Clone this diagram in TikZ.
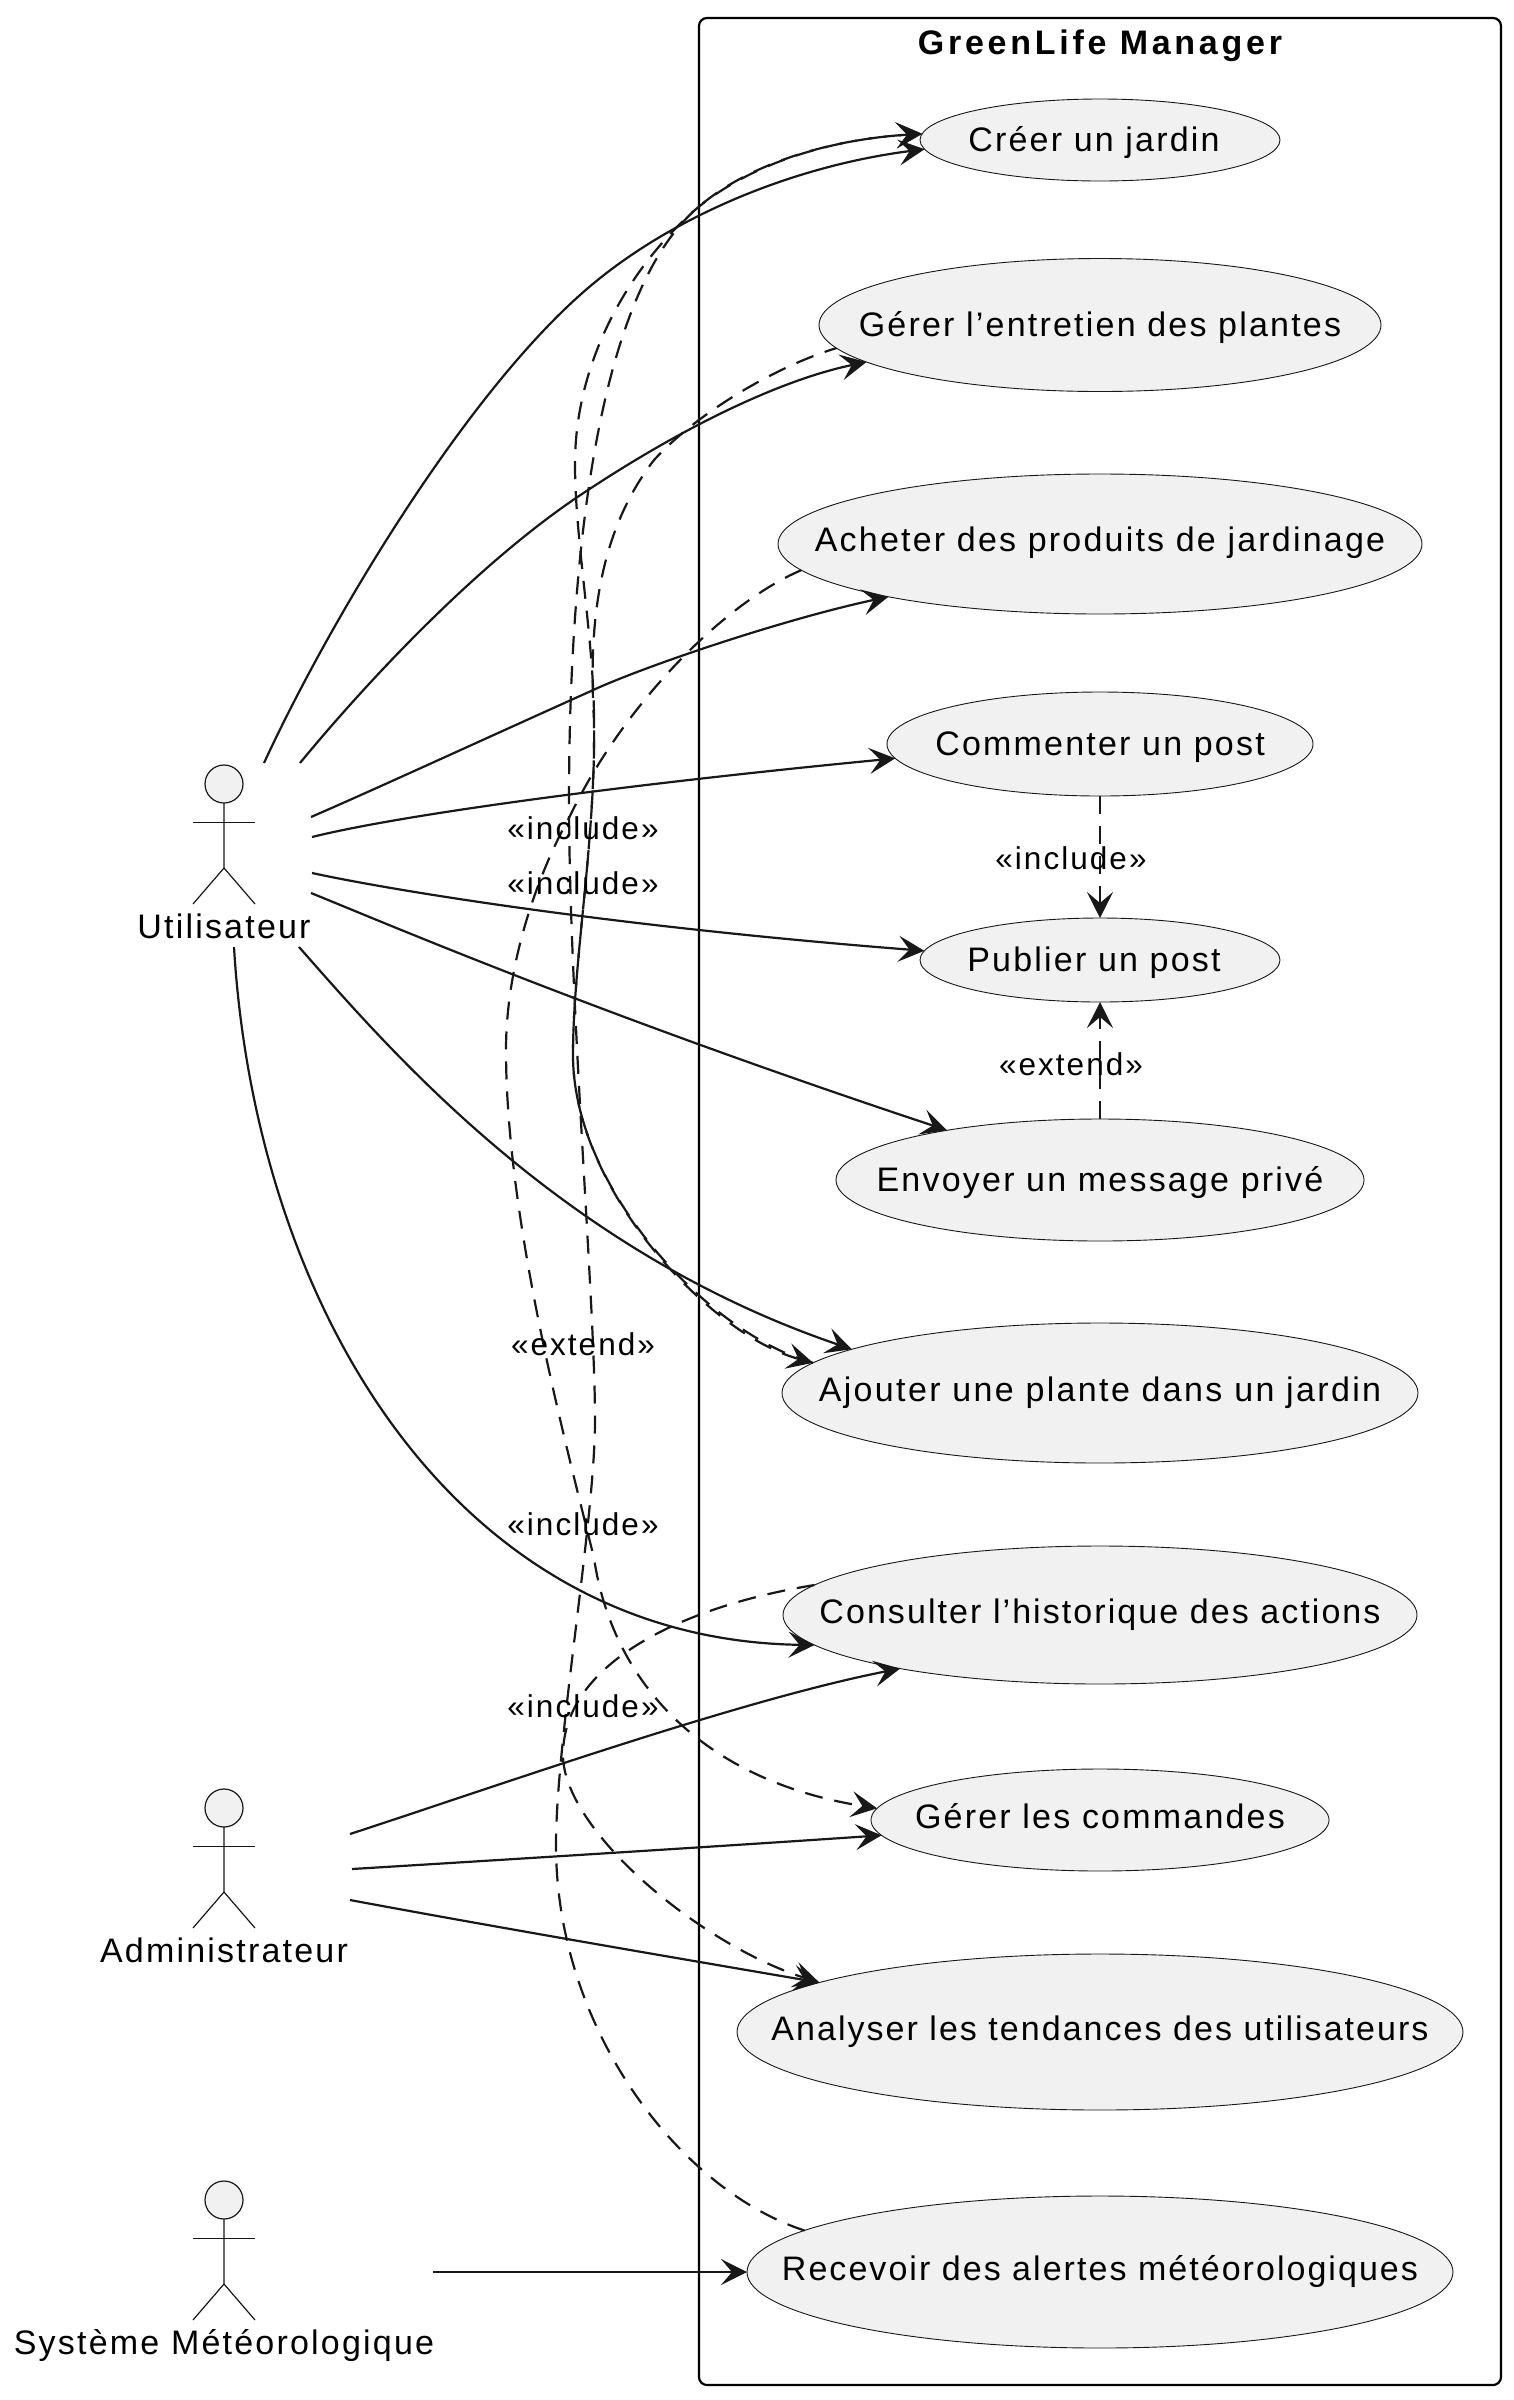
\documentclass[tikz,border=0pt]{standalone}
\usepackage{fontspec}
\setmainfont[LetterSpace=6.5]{Liberation Sans}
\usetikzlibrary{arrows.meta,shapes.geometric}
\newcommand{\uctext}[3]{\makebox[0pt]{\hspace*{#1}\smash{\raisebox{#2}{#3}}}}
\newcommand{\umlactor}[4]{%
  \node[actorhead] (#1) at (#2,#3) {};
  \draw[actorline] (#1.south) -- ++(0,65) coordinate (#1hip) -- ++(-31,36);
  \draw[actorline] (#1hip) -- ++(31,36);
  \draw[actorline] (#2-31,#3+38.5) -- (#2+31,#3+38.5);
  \node[actorlabel] (#1label) at (#2,#3+154) {#4};
}
\tikzset{
  usecase/.style={ellipse,draw=line,line width=0.45pt,fill=ucfill,inner sep=0pt,outer sep=0pt,text=black,font=\fontsize{17}{20}\selectfont},
  actorhead/.style={circle,draw=line,line width=0.6pt,fill=ucfill,minimum size=19pt,inner sep=0pt,outer sep=0pt},
  actorline/.style={draw=line,line width=0.6pt},
  actorlabel/.style={anchor=base,inner sep=0pt,font=\fontsize{17}{20}\selectfont},
  assoc/.style={draw=line,line width=1.1pt,-{Stealth[length=13pt,width=13pt,inset=5.5pt]}},
  dep/.style={assoc,dash pattern=on 9pt off 6pt},
  deprev/.style={draw=line,line width=1.1pt,{Stealth[length=13pt,width=13pt,inset=5.5pt]}-,dash pattern=on 9.15pt off 6pt},
  stereo/.style={inner sep=0pt,text=black,font=\fontsize{15.75}{18}\selectfont},
  systemframe/.style={draw=black,line width=1.1pt,rounded corners=4pt},
  framelabel/.style={inner sep=0pt,text=black,font=\fontsize{17}{20}\selectfont\bfseries\addfontfeatures{LetterSpace=11}},
}
\definecolor{line}{HTML}{181818}
\definecolor{ucfill}{HTML}{F1F1F1}
\begin{document}
\begin{tikzpicture}[x=0.5pt,y=-0.5pt]
\useasboundingbox (0,0) rectangle (1514,2400);
\fill[white] (0,0) rectangle (1514,2400);
\draw[systemframe] (699,18) rectangle (1501,2385);
\node[framelabel] (title) at (1100,46) {GreenLife Manager};
% use cases
\node[usecase,minimum width=180pt,minimum height=41pt] (creer) at (1100,140) {\uctext{-6pt}{-5.6pt}{Créer un jardin}};
\node[usecase,minimum width=281pt,minimum height=66.5pt] (entretien) at (1100,325) {\uctext{0pt}{-5.9pt}{Gérer l’entretien des plantes}};
\node[usecase,minimum width=322pt,minimum height=70pt] (acheter) at (1100,544) {\uctext{0pt}{-3.6pt}{Acheter des produits de jardinage}};
\node[usecase,minimum width=213pt,minimum height=52pt] (commenter) at (1100,744) {\uctext{0pt}{-5.9pt}{Commenter un post}};
\node[usecase,minimum width=180pt,minimum height=42pt] (publier) at (1100,960) {\uctext{-6pt}{-5.9pt}{Publier un post}};
\node[usecase,minimum width=264pt,minimum height=61pt] (envoyer) at (1100,1180) {\uctext{0pt}{-5.9pt}{Envoyer un message privé}};
\node[usecase,minimum width=318pt,minimum height=70pt] (ajouter) at (1100,1393) {\uctext{0pt}{-4.4pt}{\addfontfeatures{LetterSpace=6.9}Ajouter une plante dans un jardin}};
\node[usecase,minimum width=317pt,minimum height=69pt] (consulter) at (1100,1615) {\uctext{0pt}{-4.4pt}{\addfontfeatures{LetterSpace=6.1}Consulter l’historique des actions}};
\node[usecase,minimum width=229pt,minimum height=51pt] (commandes) at (1100,1820) {\uctext{0pt}{-4.4pt}{Gérer les commandes}};
\node[usecase,minimum width=363pt,minimum height=78pt] (analyser) at (1100,2032) {\uctext{0pt}{-4.1pt}{\addfontfeatures{LetterSpace=6}Analyser les tendances des utilisateurs}};
\node[usecase,minimum width=353pt,minimum height=76pt] (recevoir) at (1100,2272) {\uctext{0pt}{-4.1pt}{\addfontfeatures{LetterSpace=6}Recevoir des alertes météorologiques}};
% actors
\umlactor{utilisateur}{224}{784}{Utilisateur}
\umlactor{admin}{224}{1808}{Administrateur}
\umlactor{systeme}{224}{2200}{Système Météorologique}
% connector free ends
\coordinate (u1) at (264,763);
\coordinate (u2) at (300,763);
\coordinate (u3) at (311,817);
\coordinate (u4) at (312,837);
\coordinate (u5) at (312,873);
\coordinate (u6) at (311,893);
\coordinate (u7) at (299,947);
\coordinate (u8) at (234,947);
\coordinate (a1) at (350,1834);
\coordinate (a2) at (352,1869);
\coordinate (a3) at (350,1900);
\coordinate (s1) at (433,2272);
% associations
\draw[assoc] (u1) .. controls (330,620) and (470,385) .. (594,283) .. controls (680,212) and (800,165) .. (creer.183);
\draw[assoc] (u2) .. controls (360,690) and (470,570) .. (576,498) .. controls (680,428) and (780,380) .. (entretien.189.6);
\draw[assoc] (u3) .. controls (380,787) and (460,750) .. (591,691) .. controls (640,668) and (780,620) .. (acheter.194.6);
\draw[assoc] (u4) .. controls (400,815) and (620,785) .. (commenter.184.8);
\draw[assoc] (u5) .. controls (400,892) and (620,927) .. (publier.177);
\draw[assoc] (u6) .. controls (390,925) and (600,1015) .. (envoyer.162.2);
\draw[assoc] (u7) .. controls (390,1050) and (560,1250) .. (ajouter.170);
\draw[assoc] (u8) .. controls (255,1300) and (450,1640) .. (consulter.186);
\draw[assoc] (a1) .. controls (500,1785) and (740,1700) .. (consulter.195.2);
\draw[assoc] (a2) .. controls (500,1860) and (740,1845) .. (commandes.184.1);
\draw[assoc] (a3) .. controls (500,1928) and (700,1962) .. (analyser.170.2);
\draw[assoc] (s1) -- (recevoir.west);
% dependencies
\draw[dep] (ajouter.174.2) .. controls (710,1335) and (573,1190) .. (573,1055) .. controls (573,960) and (596,840) .. (594,720) .. controls (594,640) and (575,540) .. (575,464) .. controls (575,370) and (620,285) .. (676,228) .. controls (730,170) and (820,140) .. (creer.178);
\draw[deprev] (ajouter.174.2) .. controls (710,1335) and (573,1190) .. (573,1055) .. controls (573,960) and (596,840) .. (594,720) .. controls (588,620) and (600,530) .. (654,460) .. controls (700,410) and (780,365) .. (entretien.185);
\draw[dep] (acheter.185.8) .. controls (720,605) and (620,710) .. (569,818) .. controls (540,870) and (506,960) .. (506,1050) .. controls (506,1220) and (565,1440) .. (594,1558) .. controls (612,1680) and (700,1780) .. (commandes.177);
\draw[dep] (consulter.174.7) .. controls (690,1605) and (563,1660) .. (563,1755) .. controls (563,1830) and (700,1945) .. (analyser.170.7);
\draw[dep] (recevoir.172.5) .. controls (680,2190) and (556,2030) .. (556,1845) .. controls (556,1740) and (595,1520) .. (595,1420) .. controls (595,1300) and (569,1000) .. (569,800) .. controls (569,620) and (585,330) .. (683,222) .. controls (730,170) and (820,140) .. (creer.178);
\draw[dep] (commenter.south) -- (publier.north);
\draw[dep] (envoyer.north) -- (publier.south);
% stereotypes
\node[stereo] (l1) at (583,828) {«include»};
\node[stereo] (l2) at (583,883) {«include»};
\node[stereo] (l3) at (583,1344) {«extend»};
\node[stereo] (l4) at (583,1524) {«include»};
\node[stereo] (l5) at (583,1706) {«include»};
\node[stereo] (l6) at (1071,858) {«include»};
\node[stereo] (l7) at (1071,1064) {«extend»};
\end{tikzpicture}
\end{document}
